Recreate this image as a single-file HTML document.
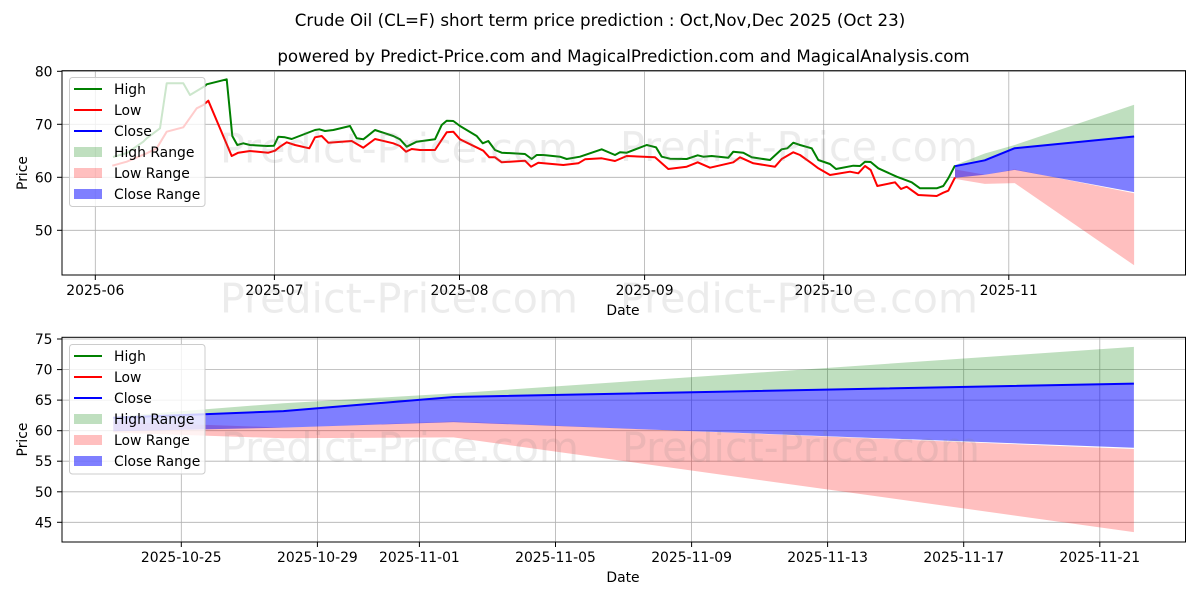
<!DOCTYPE html>
<html><head><meta charset="utf-8"><style>
html,body{margin:0;padding:0;background:#fff;}
svg{display:block;}
text{font-family:"DejaVu Sans","Liberation Sans",sans-serif;fill:#000;}
.t{font-size:13.9px;}
.wm{font-size:41px;fill:#808080;fill-opacity:0.15;}
</style></head><body>
<svg width="1200" height="600" viewBox="0 0 1200 600" xmlns="http://www.w3.org/2000/svg">
<defs>
<clipPath id="c1"><rect x="62" y="70.7" width="1123.5" height="204.3"/></clipPath>
<clipPath id="c2"><rect x="62" y="337.3" width="1123.5" height="204.7"/></clipPath>
</defs>
<rect width="1200" height="600" fill="#fff"/>
<text x="600" y="26" text-anchor="middle" style="font-size:16.67px">Crude Oil (CL=F) short term price prediction : Oct,Nov,Dec 2025 (Oct 23)</text>
<text x="623.5" y="62" text-anchor="middle" style="font-size:16.67px">powered by Predict-Price.com and MagicalPrediction.com and MagicalAnalysis.com</text>

<!-- ===== TOP AXES ===== -->
<g stroke="#b0b0b0" stroke-width="0.8">
<line x1="95.3" y1="70.7" x2="95.3" y2="275"/>
<line x1="274.4" y1="70.7" x2="274.4" y2="275"/>
<line x1="459.5" y1="70.7" x2="459.5" y2="275"/>
<line x1="644.6" y1="70.7" x2="644.6" y2="275"/>
<line x1="823.7" y1="70.7" x2="823.7" y2="275"/>
<line x1="1008.8" y1="70.7" x2="1008.8" y2="275"/>
<line x1="62" y1="71.3" x2="1185.5" y2="71.3"/>
<line x1="62" y1="124.3" x2="1185.5" y2="124.3"/>
<line x1="62" y1="177.3" x2="1185.5" y2="177.3"/>
<line x1="62" y1="230.3" x2="1185.5" y2="230.3"/>
</g>
<g clip-path="url(#c1)">
<polygon fill="green" fill-opacity="0.25" points="955,165.1 984.8,153.5 1014.7,145 1134.1,104.7 1134.1,136.5 1014.7,148.2 984.8,160.3 955,166.2"/>
<polygon fill="red" fill-opacity="0.25" points="955,169.4 984.8,174.7 1014.7,169.4 1134.1,193.2 1134.1,265.3 1014.7,183.1 984.8,183.9 955,178.9"/>
<polygon fill="blue" fill-opacity="0.5" points="955,166.2 984.8,160.3 1014.7,148.2 1134.1,136.5 1134.1,192.1 1014.7,169.9 984.8,174.7 955,177.8"/>
<polyline fill="none" stroke="green" stroke-width="2" stroke-linejoin="round" points="113,157 127,153 143.3,141.7 146.7,138.3 160,128.3 166.7,83.3 183.3,83.3 190,95 205,86 206.7,84.3 226.7,79.3 232.3,136 237.3,145 243.3,143.3 250,145 266.7,146 274,145.7 278.3,136.7 285,137.3 291.7,139 315,130 319.3,129.3 325,131 333.3,130 350,126 356.7,138.3 363.3,139.3 366.7,136.7 375,130 383.3,132.7 393.3,136 400,139.3 406.7,146.7 416.7,141.7 435,139.3 441.7,125 446.7,120.7 453.3,121 460,126 476.7,136 482.7,143.3 488.3,141 495,150 501.7,152.7 525,154 531.7,159 536.7,155 543.3,155 560,156.7 566.7,159 580,156.7 601.7,149.3 615,155 620,152.3 626.7,152.7 646.7,145 656,147.3 661.7,156.7 670,158.7 686.7,159 697.7,155.3 703.3,156.7 711.7,156 728.3,157.7 733.3,151.7 743.3,152.7 751.7,157.3 770,160 781.7,149.3 787.3,148.3 793.3,142.7 800,145 811.7,148.3 818.3,160 830,164 836,169 853.3,165.7 860,166 865,161.7 870.7,162 878.3,168.3 896.7,176.7 911.7,182.3 920,188.3 936.7,188.3 943.3,186 948.3,178.3 955,165.5"/>
<polyline fill="none" stroke="red" stroke-width="2" stroke-linejoin="round" points="112.3,165.7 126.7,161.7 146.7,153.3 156.7,148.3 166.7,131.7 183.3,127.3 196.7,108.3 203.3,105 208.3,100.7 231.7,156 238.3,152.7 250,151 268.3,152.7 275,150.7 280,146.7 286.7,142.3 295,145 309.3,148.3 315,137.3 321.7,136 328.3,142.7 351.7,141 363.3,147.7 375,139 393.3,143.3 400,146 406,151.7 411.7,149 420,150 435,150 446.7,132.3 453.3,131.7 460,139.3 483.3,150.7 489.3,157.3 495,157.3 501.7,162.3 525,160.7 531,166.7 538.3,162.7 563.3,165 578.3,163.3 585,159.3 601.7,158.3 615,161 626.7,156 655,157.3 668.3,169 686.7,166.7 697.7,162.3 710,167.7 733.3,162.3 740,157.3 753.3,163.3 775,166.7 781.7,159 793.3,152.3 800,155 811.7,163.3 818.3,168.3 830,175 850,171.7 858.3,173.3 865,166 870.7,170 877.3,186 895,182.3 901,189 906.7,186.7 918.3,195 936.7,196 943.3,192.7 948.3,190.7 955,177.5"/>
<polyline fill="none" stroke="blue" stroke-width="2" stroke-linejoin="round" points="955,166.2 984.8,160.3 1014.7,148.2 1134.1,136.5"/>
</g>
<rect x="62" y="70.7" width="1123.5" height="204.3" fill="none" stroke="#000" stroke-width="1"/>
<g stroke="#000" stroke-width="1">
<line x1="95.3" y1="275" x2="95.3" y2="280"/>
<line x1="274.4" y1="275" x2="274.4" y2="280"/>
<line x1="459.5" y1="275" x2="459.5" y2="280"/>
<line x1="644.6" y1="275" x2="644.6" y2="280"/>
<line x1="823.7" y1="275" x2="823.7" y2="280"/>
<line x1="1008.8" y1="275" x2="1008.8" y2="280"/>
<line x1="57" y1="71.3" x2="62" y2="71.3"/>
<line x1="57" y1="124.3" x2="62" y2="124.3"/>
<line x1="57" y1="177.3" x2="62" y2="177.3"/>
<line x1="57" y1="230.3" x2="62" y2="230.3"/>
</g>
<g class="t" text-anchor="middle">
<text class="t" x="95.3" y="295">2025-06</text>
<text class="t" x="274.4" y="295">2025-07</text>
<text class="t" x="459.5" y="295">2025-08</text>
<text class="t" x="644.6" y="295">2025-09</text>
<text class="t" x="823.7" y="295">2025-10</text>
<text class="t" x="1008.8" y="295">2025-11</text>
<text class="t" x="623" y="315">Date</text>
</g>
<g text-anchor="end">
<text class="t" x="52.5" y="76.3">80</text>
<text class="t" x="52.5" y="129.3">70</text>
<text class="t" x="52.5" y="182.3">60</text>
<text class="t" x="52.5" y="235.3">50</text>
</g>
<text class="t" text-anchor="middle" transform="translate(27,173) rotate(-90)">Price</text>

<!-- top legend -->
<rect x="69.5" y="77.5" width="135.5" height="129" rx="3" fill="#fff" fill-opacity="0.8" stroke="#cccccc" stroke-width="1"/>
<line x1="74" y1="89" x2="102" y2="89" stroke="green" stroke-width="2"/>
<line x1="74" y1="110" x2="102" y2="110" stroke="red" stroke-width="2"/>
<line x1="74" y1="131" x2="102" y2="131" stroke="blue" stroke-width="2"/>
<rect x="74" y="147" width="28" height="10" fill="green" fill-opacity="0.25"/>
<rect x="74" y="168" width="28" height="10" fill="red" fill-opacity="0.25"/>
<rect x="74" y="189" width="28" height="10" fill="blue" fill-opacity="0.5"/>
<text class="t" x="114" y="94">High</text>
<text class="t" x="114" y="115">Low</text>
<text class="t" x="114" y="136">Close</text>
<text class="t" x="114" y="157">High Range</text>
<text class="t" x="114" y="178">Low Range</text>
<text class="t" x="114" y="199">Close Range</text>

<!-- ===== BOTTOM AXES ===== -->
<g stroke="#b0b0b0" stroke-width="0.8">
<line x1="181.3" y1="337.3" x2="181.3" y2="542"/>
<line x1="317.4" y1="337.3" x2="317.4" y2="542"/>
<line x1="419.4" y1="337.3" x2="419.4" y2="542"/>
<line x1="555.5" y1="337.3" x2="555.5" y2="542"/>
<line x1="691.6" y1="337.3" x2="691.6" y2="542"/>
<line x1="827.6" y1="337.3" x2="827.6" y2="542"/>
<line x1="963.7" y1="337.3" x2="963.7" y2="542"/>
<line x1="1099.8" y1="337.3" x2="1099.8" y2="542"/>
<line x1="62" y1="339" x2="1185.5" y2="339"/>
<line x1="62" y1="369.6" x2="1185.5" y2="369.6"/>
<line x1="62" y1="400.1" x2="1185.5" y2="400.1"/>
<line x1="62" y1="430.7" x2="1185.5" y2="430.7"/>
<line x1="62" y1="461.2" x2="1185.5" y2="461.2"/>
<line x1="62" y1="491.8" x2="1185.5" y2="491.8"/>
<line x1="62" y1="522.3" x2="1185.5" y2="522.3"/>
</g>
<g clip-path="url(#c2)">
<polygon fill="green" fill-opacity="0.25" points="113.3,416.6 283.4,403.2 453.5,393.4 1133.9,346.9 1133.9,383.6 453.5,397 283.4,411.1 113.3,417.8"/>
<polygon fill="red" fill-opacity="0.25" points="113.3,421.5 283.4,427.6 453.5,421.5 1133.9,449 1133.9,532.1 453.5,437.4 283.4,438.3 113.3,432.5"/>
<polygon fill="blue" fill-opacity="0.5" points="113.3,417.8 283.4,411.1 453.5,397 1133.9,383.6 1133.9,447.8 453.5,422.1 283.4,427.6 113.3,431.3"/>
<polyline fill="none" stroke="blue" stroke-width="2" stroke-linejoin="round" points="113.3,417.8 283.4,411.1 453.5,397 1133.9,383.6"/>
</g>
<rect x="62" y="337.3" width="1123.5" height="204.7" fill="none" stroke="#000" stroke-width="1"/>
<g stroke="#000" stroke-width="1">
<line x1="181.3" y1="542" x2="181.3" y2="547"/>
<line x1="317.4" y1="542" x2="317.4" y2="547"/>
<line x1="419.4" y1="542" x2="419.4" y2="547"/>
<line x1="555.5" y1="542" x2="555.5" y2="547"/>
<line x1="691.6" y1="542" x2="691.6" y2="547"/>
<line x1="827.6" y1="542" x2="827.6" y2="547"/>
<line x1="963.7" y1="542" x2="963.7" y2="547"/>
<line x1="1099.8" y1="542" x2="1099.8" y2="547"/>
<line x1="57" y1="339" x2="62" y2="339"/>
<line x1="57" y1="369.6" x2="62" y2="369.6"/>
<line x1="57" y1="400.1" x2="62" y2="400.1"/>
<line x1="57" y1="430.7" x2="62" y2="430.7"/>
<line x1="57" y1="461.2" x2="62" y2="461.2"/>
<line x1="57" y1="491.8" x2="62" y2="491.8"/>
<line x1="57" y1="522.3" x2="62" y2="522.3"/>
</g>
<g text-anchor="middle">
<text class="t" x="181.3" y="562">2025-10-25</text>
<text class="t" x="317.4" y="562">2025-10-29</text>
<text class="t" x="419.4" y="562">2025-11-01</text>
<text class="t" x="555.5" y="562">2025-11-05</text>
<text class="t" x="691.6" y="562">2025-11-09</text>
<text class="t" x="827.6" y="562">2025-11-13</text>
<text class="t" x="963.7" y="562">2025-11-17</text>
<text class="t" x="1099.8" y="562">2025-11-21</text>
<text class="t" x="623" y="582">Date</text>
</g>
<g text-anchor="end">
<text class="t" x="52.5" y="344">75</text>
<text class="t" x="52.5" y="374.6">70</text>
<text class="t" x="52.5" y="405.1">65</text>
<text class="t" x="52.5" y="435.7">60</text>
<text class="t" x="52.5" y="466.2">55</text>
<text class="t" x="52.5" y="496.8">50</text>
<text class="t" x="52.5" y="527.3">45</text>
</g>
<text class="t" text-anchor="middle" transform="translate(27,439.5) rotate(-90)">Price</text>

<!-- bottom legend -->
<rect x="69.5" y="344.5" width="135.5" height="129.5" rx="3" fill="#fff" fill-opacity="0.8" stroke="#cccccc" stroke-width="1"/>
<line x1="74" y1="356" x2="102" y2="356" stroke="green" stroke-width="2"/>
<line x1="74" y1="377" x2="102" y2="377" stroke="red" stroke-width="2"/>
<line x1="74" y1="398" x2="102" y2="398" stroke="blue" stroke-width="2"/>
<rect x="74" y="414" width="28" height="10" fill="green" fill-opacity="0.25"/>
<rect x="74" y="435" width="28" height="10" fill="red" fill-opacity="0.25"/>
<rect x="74" y="456" width="28" height="10" fill="blue" fill-opacity="0.5"/>
<text class="t" x="114" y="361">High</text>
<text class="t" x="114" y="382">Low</text>
<text class="t" x="114" y="403">Close</text>
<text class="t" x="114" y="424">High Range</text>
<text class="t" x="114" y="445">Low Range</text>
<text class="t" x="114" y="466">Close Range</text>

<!-- watermarks -->
<text class="wm" x="220" y="162.7" textLength="358" lengthAdjust="spacingAndGlyphs">Predict-Price.com</text>
<text class="wm" x="620" y="161" textLength="358" lengthAdjust="spacingAndGlyphs">Predict-Price.com</text>
<text class="wm" x="220" y="312.7" textLength="358" lengthAdjust="spacingAndGlyphs">Predict-Price.com</text>
<text class="wm" x="620" y="312.7" textLength="358" lengthAdjust="spacingAndGlyphs">Predict-Price.com</text>
<text class="wm" x="221" y="461.7" textLength="358" lengthAdjust="spacingAndGlyphs">Predict-Price.com</text>
<text class="wm" x="622" y="461.7" textLength="358" lengthAdjust="spacingAndGlyphs">Predict-Price.com</text>
</svg>
</body></html>
